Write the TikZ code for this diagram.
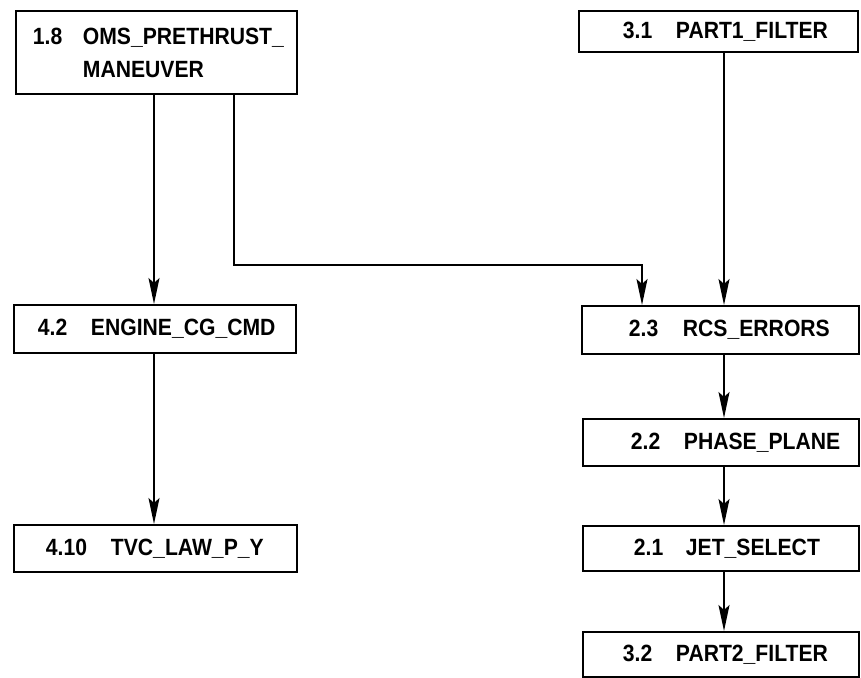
\documentclass[tikz,border=0pt]{standalone}
\usepackage{fontspec}
\setmainfont[FakeStretch=0.9]{Liberation Sans}
\usetikzlibrary{arrows.meta}
\tikzset{
  blk/.style={draw=black, line width=1.9pt, rectangle, anchor=north west,
    inner xsep=0pt, inner ysep=0pt, align=left,
    font=\fontsize{23.5}{33}\selectfont\bfseries},
  arr/.style={draw=black, line width=1.6pt,
    -{Stealth[length=26pt,width=11pt,inset=5pt]}},
}
\newcommand{\numlab}[3]{\hspace*{#1pt}\makebox[#2pt][l]{#3}}
\begin{document}
\begin{tikzpicture}[x=1pt,y=-1pt]
\useasboundingbox (0,0) rectangle (861,677);
% boxes: x1,y1 width height
\node[blk, text width=281pt, minimum height=83pt] (b18) at (15,10)
  {\numlab{17}{50}{1.8}OMS\_PRETHRUST\_\\\hspace*{67pt}MANEUVER};
\node[blk, text width=279pt, minimum height=41pt] (b31) at (578,10)
  {\numlab{44}{53}{3.1}PART1\_FILTER};
\node[blk, text width=282pt, minimum height=48pt] (b42) at (13,304)
  {\numlab{24}{53}{4.2}ENGINE\_CG\_CMD};
\node[blk, text width=277pt, minimum height=48pt] (b23) at (581,305)
  {\numlab{47}{54}{2.3}RCS\_ERRORS};
\node[blk, text width=276pt, minimum height=47pt] (b22) at (582,418)
  {\numlab{48}{53}{2.2}PHASE\_PLANE};
\node[blk, text width=283pt, minimum height=47pt] (b410) at (13,524)
  {\numlab{32}{65}{4.10}TVC\_LAW\_P\_Y};
\node[blk, text width=276pt, minimum height=45pt] (b21) at (582,525)
  {\numlab{51}{52}{2.1}JET\_SELECT};
\node[blk, text width=276pt, minimum height=45pt] (b32) at (582,631)
  {\numlab{40}{53}{3.2}PART2\_FILTER};
% connector columns
\coordinate (cl) at (154,0);
\coordinate (cm) at (234,0);
\coordinate (cr) at (642,0);
\coordinate (cc) at (724,0);
\coordinate (yl) at (0,265);
% connectors
\draw[arr] (b18.south -| cl) -- (b42.north -| cl);
\draw[arr] (b42.south -| cl) -- (b410.north -| cl);
\draw[arr] (b18.south -| cm) |- (yl -| cr) -- (b23.north -| cr);
\draw[arr] (b31.south -| cc) -- (b23.north -| cc);
\draw[arr] (b23.south -| cc) -- (b22.north -| cc);
\draw[arr] (b22.south -| cc) -- (b21.north -| cc);
\draw[arr] (b21.south -| cc) -- (b32.north -| cc);
\end{tikzpicture}
\end{document}
